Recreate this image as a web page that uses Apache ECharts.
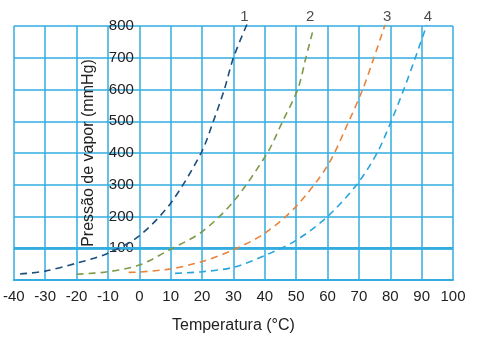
<!DOCTYPE html>
<html><head><meta charset="utf-8">
<script src="https://cdn.jsdelivr.net/npm/echarts@6/dist/echarts.min.js"></script>
<style>html,body{margin:0;padding:0;background:#fff}#c{width:485px;height:343px}</style>
</head><body><div id="c"></div>
<script>
var xTicks = [-40,-30,-20,-10,0,10,20,30,40,50,60,70,80,90,100];
var yTicks = [100,200,300,400,500,600,700,800];
var curve1 = [[-38,19],[-30,28],[-20,53],[-10,84],[0,139],[10,242],[19.7,400],[23.6,500],[27.1,600],[30,700],[34.3,805]];
var curve2 = [[-20,18],[-10,26],[0,47],[10,97],[20,152],[30,247],[40.8,400],[45.7,500],[50.5,600],[53.1,700],[55.2,780]];
var curve3 = [[-3.4,24],[0,25],[10,35],[20,58],[30,95],[40,147],[50,232],[60,360],[66.8,500],[71.2,600],[74.8,700],[78.3,803]];
var curve4 = [[11.4,21],[20,26],[30,40],[40,77],[50,125],[60,200],[69.3,300],[75.8,400],[80.3,500],[84.3,600],[88,700],[91.6,803]];
var curveNames = ['1','2','3','4'];
var namePos = [[33.5,830],[54.5,830],[79,830],[92,830]];
var colors = ['#1d4e7c','#7d9a48','#e8843c','#2aa4dc'];

var chart = echarts.init(document.getElementById('c'));
var font = 'Liberation Sans, Arial, sans-serif';
var gridColor = '#33ace0';
function line(d,i){return {type:'line',data:d,smooth:0.3,symbol:'none',clip:false,
  lineStyle:{color:colors[i],width:1.6,type:[7,5]}};}
chart.setOption({
  animation:false,
  grid:{left:11,right:32,top:26,bottom:63},
  xAxis:{type:'value',min:-40,max:100,interval:10,
    name:'Temperatura (°C)',nameLocation:'middle',nameGap:38,
    nameTextStyle:{fontFamily:font,fontSize:16,color:'#222'},
    axisLine:{show:true,lineStyle:{color:gridColor,width:2}},axisTick:{show:false},
    axisLabel:{fontFamily:font,fontSize:15,color:'#222',margin:9,formatter:function(v){return xTicks.indexOf(v)>=0?String(v):'';}},
    splitLine:{show:true,lineStyle:{color:gridColor,width:1.5}}},
  yAxis:{type:'value',min:0,max:800,interval:100,offset:-126,
    name:'Pressão de vapor (mmHg)',nameLocation:'middle',nameGap:43,
    nameTextStyle:{fontFamily:font,fontSize:16,color:'#222'},
    axisLine:{show:false},axisTick:{show:false},
    axisLabel:{fontFamily:font,fontSize:15,color:'#222',margin:6,formatter:function(v){return yTicks.indexOf(v)>=0?String(v):'';}},
    splitLine:{show:true,lineStyle:{color:gridColor,width:1.5}}},
  series:[line(curve1,0),line(curve2,1),line(curve3,2),line(curve4,3),
    {type:'scatter',symbolSize:0,clip:false,data:namePos.map(function(p,i){return {value:p,name:curveNames[i]};}),
     label:{show:true,position:'inside',formatter:'{b}',fontFamily:font,fontSize:15,color:'#222'}},
    {type:'line',data:[[-40,100],[100,100]],symbol:'none',lineStyle:{color:gridColor,width:2.5},z:1,silent:true}
  ]
});
</script></body></html>
